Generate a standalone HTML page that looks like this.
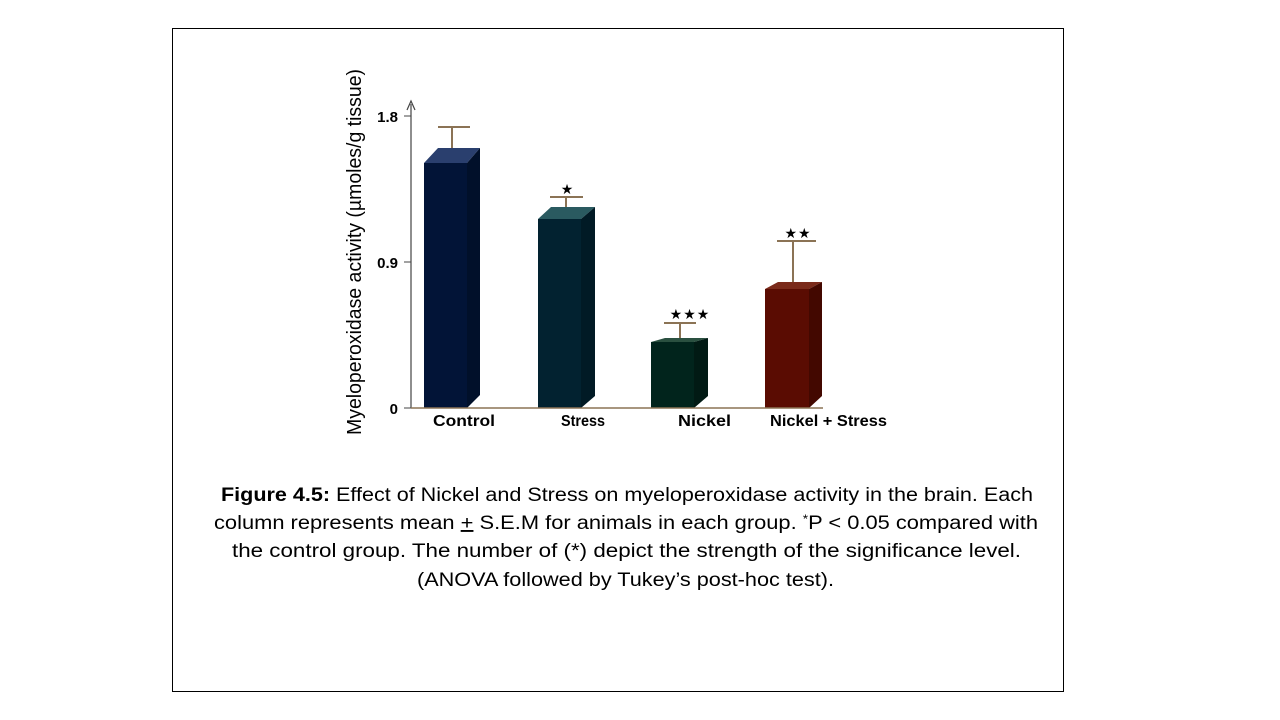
<!DOCTYPE html>
<html><head><style>body{margin:0;background:#fff}svg{display:block}</style></head><body>
<svg width="1280" height="720" xmlns="http://www.w3.org/2000/svg" font-family="Liberation Sans, sans-serif">
<rect x="172.5" y="28.5" width="891" height="663" fill="#fff" stroke="#000" stroke-width="1"/>
<line x1="411" y1="104" x2="411" y2="408" stroke="#444" stroke-width="1.2"/>
<path d="M407,110 L411,101 L415,110" fill="none" stroke="#444" stroke-width="1.2"/>
<line x1="404" y1="116" x2="411" y2="116" stroke="#444"/>
<line x1="404" y1="262" x2="411" y2="262" stroke="#444"/>
<line x1="404" y1="408" x2="411" y2="408" stroke="#444"/>
<g font-size="15" text-anchor="end" fill="#000" font-weight="bold">
<text x="398" y="122">1.8</text><text x="398" y="268">0.9</text><text x="398" y="414">0</text>
</g>
<text transform="translate(361,252) rotate(-90)" text-anchor="middle" font-size="20" textLength="366" lengthAdjust="spacingAndGlyphs">Myeloperoxidase activity (µmoles/g tissue)</text>
<g>
<polygon points="424,163 438,148 480,148 467,163" fill="#2a3f6e"/>
<polygon points="467,163 480,148 480,395 467,408" fill="#01102a"/>
<rect x="424" y="163" width="43" height="245" fill="#021437"/>
<polygon points="538,219 551,207 595,207 581,219" fill="#2a5a60"/>
<polygon points="581,219 595,207 595,396 581,408" fill="#011a25"/>
<rect x="538" y="219" width="43" height="189" fill="#022230"/>
<polygon points="651,342 665,338 708,338 694,342" fill="#2a5040"/>
<polygon points="694,342 708,338 708,396 694,408" fill="#011a14"/>
<rect x="651" y="342" width="43" height="66" fill="#01241c"/>
<polygon points="765,289 778,282 822,282 809,289" fill="#7a2a1a"/>
<polygon points="809,289 822,282 822,396 809,408" fill="#430800"/>
<rect x="765" y="289" width="44" height="119" fill="#5a0c02"/>
</g>
<line x1="411" y1="408" x2="823" y2="408" stroke="#8b7355" stroke-width="1.5"/>
<g stroke="#8b7355" stroke-width="2" fill="none">
<path d="M452,148 V127 M438,127 H470"/>
<path d="M566,207 V197 M550,197 H583"/>
<path d="M680,338 V323 M664,323 H696"/>
<path d="M793,282 V241 M777,241 H816"/>
</g>
<g font-size="14" text-anchor="middle" fill="#000">
<text x="567" y="194">★</text>
<text x="690" y="319" letter-spacing="1">★★★</text>
<text x="798" y="238" letter-spacing="1">★★</text>
</g>
<g font-size="16" font-weight="bold" fill="#000">
<text x="433" y="426" textLength="62" lengthAdjust="spacingAndGlyphs">Control</text>
<text x="561" y="426" textLength="44" lengthAdjust="spacingAndGlyphs">Stress</text>
<text x="678" y="426" textLength="53" lengthAdjust="spacingAndGlyphs">Nickel</text>
<text x="770" y="426" textLength="117" lengthAdjust="spacingAndGlyphs">Nickel + Stress</text>
</g>
<g font-size="19" fill="#000">
<text x="221" y="501" textLength="812" lengthAdjust="spacingAndGlyphs"><tspan font-weight="bold">Figure 4.5:</tspan> Effect of Nickel and Stress on myeloperoxidase activity in the brain. Each</text>
<text x="214" y="529" textLength="824" lengthAdjust="spacingAndGlyphs">column represents mean <tspan text-decoration="underline">+</tspan> S.E.M for animals in each group. <tspan font-size="12" dy="-6">*</tspan><tspan dy="6">P &lt; 0.05 compared with</tspan></text>
<text x="232" y="557" textLength="789" lengthAdjust="spacingAndGlyphs">the control group. The number of (*) depict the strength of the significance level.</text>
<text x="417" y="586" textLength="417" lengthAdjust="spacingAndGlyphs">(ANOVA followed by Tukey’s post-hoc test).</text>
</g>
</svg>
</body></html>
